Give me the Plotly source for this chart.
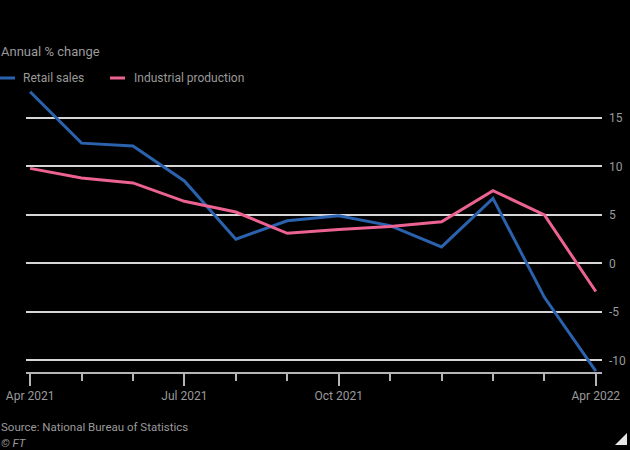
import plotly.graph_objects as go

# ---- data ----
months = ["Apr 2021", "May 2021", "Jun 2021", "Jul 2021", "Aug 2021", "Sep 2021",
          "Oct 2021", "Nov 2021", "Dec 2021", "Feb 2022", "Mar 2022", "Apr 2022"]
retail_sales = [17.7, 12.4, 12.1, 8.5, 2.5, 4.4, 4.9, 3.9, 1.7, 6.7, -3.5, -11.1]
industrial_production = [9.8, 8.8, 8.3, 6.4, 5.3, 3.1, 3.5, 3.8, 4.3, 7.5, 5.0, -2.9]
x_tick_labels = ["Apr 2021", "Jul 2021", "Oct 2021", "Apr 2022"]
y_tick_values = [-10, -5, 0, 5, 10, 15]
y_tick_labels = ["-10", "-5", "0", "5", "10", "15"]

# ---- style ----
W, H = 630, 450
L, R, T, B = 26, 28, 84, 78
BG = "#000000"
TEXT = "#9a9a9a"
GRID = "#d6d6d6"
BLUE = "#2a62ad"
PINK = "#ec6292"
FONT = "Roboto"

pw, ph = W - L - R, H - T - B


def px(x):
    return (x - L) / pw


def py(y):
    return (H - B - y) / ph


xi = list(range(len(months)))
label_pos = [months.index(m) for m in x_tick_labels]

fig = go.Figure()
fig.add_trace(go.Scatter(x=xi, y=retail_sales, mode="lines", name="Retail sales",
                         line=dict(color=BLUE, width=3), cliponaxis=False,
                         text=months, hovertemplate="%{text}: %{y}<extra></extra>"))
fig.add_trace(go.Scatter(x=xi, y=industrial_production, mode="lines",
                         name="Industrial production",
                         line=dict(color=PINK, width=3), cliponaxis=False,
                         text=months, hovertemplate="%{text}: %{y}<extra></extra>"))

fig.update_layout(
    width=W, height=H,
    margin=dict(l=L, r=R, t=T, b=B, autoexpand=False),
    paper_bgcolor=BG, plot_bgcolor=BG,
    showlegend=False,
    font=dict(family=FONT, size=12, color=TEXT),
    xaxis=dict(
        range=[-0.08, 11.12], automargin=False,
        tickmode="array", tickvals=label_pos, ticktext=x_tick_labels,
        ticks="outside", ticklen=12, tickwidth=1.5, tickcolor="#b5b5b5",
        minor=dict(tick0=0, dtick=1, ticks="outside", ticklen=7,
                   tickwidth=1.5, tickcolor="#b5b5b5", showgrid=False),
        showline=True, linecolor="#b5b5b5", linewidth=2,
        showgrid=False, zeroline=False,
        tickfont=dict(family=FONT, size=12, color=TEXT),
    ),
    yaxis=dict(
        range=[-11.2, 18.5], side="right", automargin=False,
        tickmode="array", tickvals=y_tick_values, ticktext=y_tick_labels,
        showgrid=True, gridcolor=GRID, gridwidth=1.5,
        zeroline=False, showline=False, ticks="",
        ticklabelstandoff=6,
        tickfont=dict(family=FONT, size=12, color=TEXT),
    ),
)

annotations = [
    dict(text="Annual % change", x=px(0), y=py(51), xanchor="left", yanchor="middle",
         font=dict(size=13, color=TEXT)),
    dict(text="Retail sales", x=px(22), y=py(78), xanchor="left", yanchor="middle",
         font=dict(size=12, color=TEXT)),
    dict(text="Industrial production", x=px(133), y=py(78), xanchor="left", yanchor="middle",
         font=dict(size=12, color=TEXT)),
    dict(text="Source: National Bureau of Statistics", x=px(0), y=py(427),
         xanchor="left", yanchor="middle", font=dict(size=11.5, color=TEXT)),
    dict(text="<i>© FT</i>", x=px(0), y=py(443), xanchor="left", yanchor="middle",
         font=dict(size=11.5, color=TEXT)),
]
for a in annotations:
    a.update(xref="paper", yref="paper", showarrow=False, borderpad=0)
fig.update_layout(annotations=annotations)

shapes = [
    dict(type="line", x0=px(0), x1=px(15), y0=py(78), y1=py(78),
         line=dict(color=BLUE, width=3)),
    dict(type="line", x0=px(110), x1=px(125), y0=py(78), y1=py(78),
         line=dict(color=PINK, width=3)),
    dict(type="path",
         path=f"M {px(627)} {py(433)} L {px(627)} {py(445)} L {px(615)} {py(445)} Z",
         fillcolor="#e6e6e6", line=dict(width=0)),
]
for s in shapes:
    s.update(xref="paper", yref="paper")
fig.update_layout(shapes=shapes)

fig.write_html("out.html")
